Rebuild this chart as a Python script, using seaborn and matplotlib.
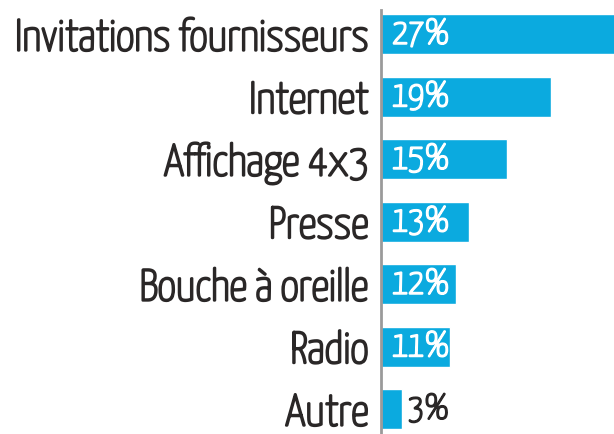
import matplotlib
matplotlib.use("Agg")
import matplotlib.pyplot as plt
import matplotlib.patheffects as pe
import seaborn as sns
import pandas as pd

# categories, shown percentages, and bar lengths
categories = ["Invitations fournisseurs", "Internet", "Affichage 4x3", "Presse",
              "Bouche à oreille", "Radio", "Autre"]
shown_pct = [27, 19, 15, 13, 12, 11, 3]
bar_len = [27, 19.1, 14.2, 9.9, 8.4, 7.75, 2.4]

df = pd.DataFrame({"cat": categories, "len": bar_len})

sns.set_theme(style="white")
plt.rcParams["font.family"] = ["Yanone Kaffeesatz", "DejaVu Sans"]

blue = "#0BAADF"
dark = "#2a2727"

# only the light cut of the font is installed, so thicken strokes a bit
def thick(color, w=1.7):
    return [pe.withStroke(linewidth=w, foreground=color)]

fig = plt.figure(figsize=(6.14, 4.34), dpi=100)
ax = fig.add_axes([381 / 614, 0, 233 / 614, 424 / 434])

sns.barplot(data=df, x="len", y="cat", color=blue, saturation=1, width=0.64, ax=ax)

ax.set_xlim(0, 233 / 8.9)
ax.set_ylim(6.4, -0.384)
ax.set_xlabel("")
ax.set_ylabel("")
ax.set_xticks([])
ax.tick_params(axis="y", length=0, pad=9, labelsize=32, labelcolor=dark)
for lab in ax.get_yticklabels():
    lab.set_path_effects(thick(dark))
for s in ["top", "right", "bottom"]:
    ax.spines[s].set_visible(False)
ax.spines["left"].set_color("#9a9a9a")
ax.spines["left"].set_linewidth(2)

for i, (p, L) in enumerate(zip(shown_pct, bar_len)):
    if L > 5:
        ax.text(1.25, i, f"{p}%", color="white", fontsize=25.5, va="center", ha="left",
                path_effects=thick("white", 1.5))
    else:
        ax.text(L + 0.6, i, f"{p}%", color=dark, fontsize=25.5, va="center", ha="left",
                path_effects=thick(dark, 1.5))

fig.savefig("out.png", dpi=100)
